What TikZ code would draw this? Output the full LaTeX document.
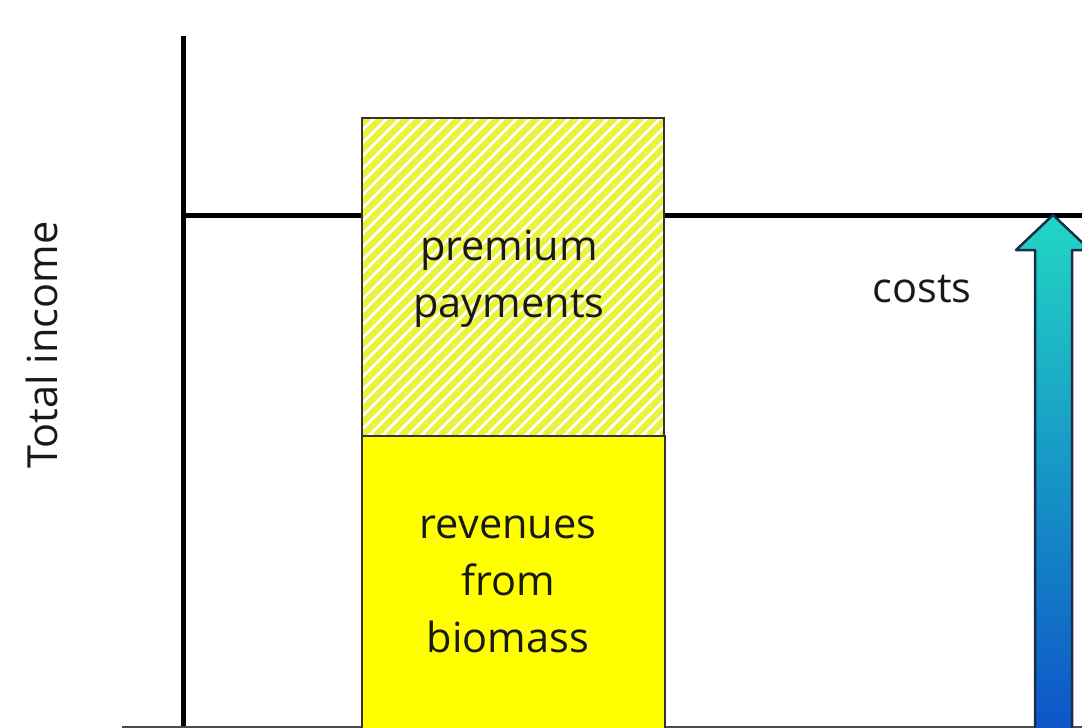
\documentclass[tikz,border=0pt]{standalone}
\usepackage{fontspec}
\setmainfont{Open Sans}
\definecolor{barYellow}{HTML}{FFFF00}
\definecolor{hatchYellow}{HTML}{EAF23C}
\definecolor{arrowTop}{HTML}{22D6C4}
\definecolor{arrowBottom}{HTML}{0C52C8}
\definecolor{arrowEdge}{HTML}{1A2E48}
\begin{document}
\begin{tikzpicture}[x=1pt,y=-1pt,
  axis/.style={line width=5pt,black},
  lbl/.style={font=\fontsize{41.5}{57}\selectfont,align=center,text=black!90,inner sep=0pt},
  boxedge/.style={draw=black!80,line width=1.2pt}]
\useasboundingbox (0,0) rectangle (1082,728);
\begin{scope}
\clip (0,0) rectangle (1082,728);
% coordinates
\coordinate (vtop) at (183,36);
\coordinate (vbot) at (183,728);
\coordinate (hleft) at (183,215);
\coordinate (hright) at (1082,215);
\coordinate (bleft) at (122,727);
\coordinate (bright) at (1082,727);
% axes
\draw[axis] (vtop) -- (vbot);
\draw[axis] (hleft) -- (hright);
\draw[line width=3pt,black!70] (bleft) -- (bright);
% hatched box
\fill[white] (362,118) rectangle (664,436);
\begin{scope}
\clip (362,118) rectangle (664,436);
\foreach \i in {-40,...,40} {
  \draw[hatchYellow,line width=6.3pt] (362+\i*13,436) -- ++(340,-340);
}
\end{scope}
\draw[boxedge] (362,118) rectangle (664,436);
% solid box
\fill[barYellow] (362,436) rectangle (665,740);
\draw[boxedge] (362,740) -- (362,436) -- (665,436) -- (665,740);
% arrow
\path[top color=arrowTop,bottom color=arrowBottom]
  (1035,740) -- (1035,250) -- (1016,250) -- (1053,215) -- (1090,250) -- (1072,250) -- (1072,740) -- cycle;
\draw[arrowEdge,line width=2.5pt,line join=round]
  (1035,740) -- (1035,250) -- (1016,250) -- (1053,215) -- (1090,250) -- (1072,250) -- (1072,740);
\end{scope}
% labels
\node[lbl] (prem) at (509,279) {premium\\payments};
\node[lbl] (rev) at (508,584) {revenues\\from\\biomass};
\node[lbl] (costs) at (922,289) {costs};
\node[lbl,rotate=90] (ti) at (42,345) {Total income};
\end{tikzpicture}
\end{document}
